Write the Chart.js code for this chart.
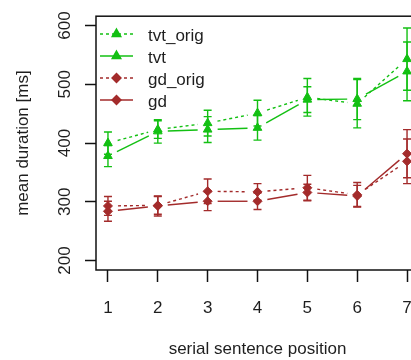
<!DOCTYPE html>
<html>
<head>
<meta charset="utf-8">
<script src="https://cdn.jsdelivr.net/npm/chart.js@4"></script>
<style>
  html, body { margin: 0; padding: 0; background: #fff; }
  #wrap { width: 411px; height: 360px; overflow: hidden; position: relative; }
  canvas { display: block; }
</style>
</head>
<body>
<div id="wrap"><canvas id="c" width="430" height="360"></canvas></div>
<script>
// serial sentence positions and tick values
const positions = [1, 2, 3, 4, 5, 6, 7];
const yTicks = [200, 300, 400, 500, 600];

// mean durations [ms] and half-widths of the error bars
const tvtOrig    = [400, 423, 434, 451, 478, 467, 543];
const tvtOrigErr = [19, 15, 22, 22, 32, 41, 53];
const tvt        = [378, 420, 423, 426, 474, 475, 522];
const tvtErr     = [18, 20, 22, 21, 22, 35, 50];
const gdOrig     = [293, 294, 318, 317, 324, 312, 369];
const gdOrigErr  = [16, 15, 21, 14, 21, 21, 38];
const gd         = [284, 293, 301, 301, 316, 310, 382];
const gdErr      = [17, 17, 16, 14, 14, 18, 41];

const seriesNames = ['tvt_orig', 'tvt', 'gd_orig', 'gd'];

const GREEN = '#13c013';
const RED = '#a32b2b';
const FONT = "'Liberation Sans', Arial, sans-serif";
const TEXT = '#1e1e1e';

function makeSet(label, values, errs, color, dashed, shape, radius) {
  return {
    label,
    data: positions.map((x, i) => ({ x, y: values[i] })),
    errors: errs,
    dashed,
    showLine: false,
    borderColor: color,
    backgroundColor: color,
    pointStyle: shape,
    pointRadius: radius,
    pointHoverRadius: radius,
    pointBorderWidth: 1,
  };
}

const datasets = [
  makeSet(seriesNames[0], tvtOrig, tvtOrigErr, GREEN, true, 'triangle', 5),
  makeSet(seriesNames[1], tvt, tvtErr, GREEN, false, 'triangle', 5),
  makeSet(seriesNames[2], gdOrig, gdOrigErr, RED, true, 'rectRot', 4.5),
  makeSet(seriesNames[3], gd, gdErr, RED, false, 'rectRot', 4.5),
];

// connecting lines with a gap around each point, plus error bars
const linesAndErrors = {
  id: 'linesAndErrors',
  beforeDatasetsDraw(chart) {
    const ctx = chart.ctx;
    const yScale = chart.scales.y;
    const gap = 10;
    chart.data.datasets.forEach((ds, di) => {
      const meta = chart.getDatasetMeta(di);
      const pts = meta.data;
      ctx.save();
      ctx.strokeStyle = ds.borderColor;
      ctx.lineWidth = 1.4;
      // lines between neighbouring points
      ctx.setLineDash(ds.dashed ? [3, 3] : []);
      for (let i = 0; i < pts.length - 1; i++) {
        const a = pts[i], b = pts[i + 1];
        const dx = b.x - a.x, dy = b.y - a.y;
        const len = Math.hypot(dx, dy);
        if (len <= 2 * gap) continue;
        const ux = dx / len, uy = dy / len;
        ctx.beginPath();
        ctx.moveTo(a.x + ux * gap, a.y + uy * gap);
        ctx.lineTo(b.x - ux * gap, b.y - uy * gap);
        ctx.stroke();
      }
      // error bars
      ctx.setLineDash([]);
      ds.data.forEach((p, i) => {
        const x = pts[i].x;
        const lo = yScale.getPixelForValue(p.y - ds.errors[i]);
        const hi = yScale.getPixelForValue(p.y + ds.errors[i]);
        ctx.beginPath();
        ctx.moveTo(x, lo); ctx.lineTo(x, hi);
        ctx.moveTo(x - 4, lo); ctx.lineTo(x + 4, lo);
        ctx.moveTo(x - 4, hi); ctx.lineTo(x + 4, hi);
        ctx.stroke();
      });
      ctx.restore();
    });
  },
  afterDraw(chart) {
    const ctx = chart.ctx;
    const area = chart.chartArea;
    ctx.save();
    // frame around the plotting region
    ctx.strokeStyle = '#111';
    ctx.lineWidth = 1.5;
    ctx.strokeRect(area.left, area.top, area.right - area.left, area.bottom - area.top);

    // legend in the top-left corner
    const rowY = [34, 56, 78, 100];
    chart.data.datasets.forEach((ds, di) => {
      const y = rowY[di];
      ctx.strokeStyle = ds.borderColor;
      ctx.lineWidth = 1.4;
      ctx.setLineDash(ds.dashed ? [3, 3] : []);
      ctx.beginPath();
      ctx.moveTo(100, y); ctx.lineTo(133, y);
      ctx.stroke();
      ctx.setLineDash([]);
      ctx.fillStyle = ds.backgroundColor;
      Chart.helpers.drawPoint(ctx, {
        pointStyle: ds.pointStyle, radius: ds.pointRadius, borderWidth: 1, rotation: 0
      }, 116.5, y);
      ctx.fill();
      ctx.fillStyle = TEXT;
      ctx.font = '17px ' + FONT;
      ctx.textAlign = 'left';
      ctx.textBaseline = 'middle';
      ctx.fillText(ds.label, 148, y + 2);
    });
    ctx.restore();
  }
};

new Chart(document.getElementById('c'), {
  type: 'scatter',
  data: { datasets },
  options: {
    responsive: false,
    animation: false,
    events: [],
    layout: { padding: { left: 0, right: 11, top: 13, bottom: 0 } },
    plugins: { legend: { display: false }, tooltip: { enabled: false } },
    scales: {
      x: {
        type: 'linear',
        min: 0.76,
        max: 7.24,
        afterBuildTicks: s => { s.ticks = positions.map(v => ({ value: v })); },
        afterFit: s => { s.height = 90; },
        border: { display: false },
        grid: { drawOnChartArea: false, drawTicks: true, tickLength: 12, tickColor: '#111', tickWidth: 1.5 },
        ticks: { color: TEXT, font: { family: FONT, size: 17 }, padding: 16, maxRotation: 0, autoSkip: false },
        title: {
          display: true, text: 'serial sentence position', color: TEXT,
          font: { family: FONT, size: 17 }, padding: { top: 0, bottom: 0 }
        }
      },
      y: {
        type: 'linear',
        min: 184,
        max: 616,
        afterBuildTicks: s => { s.ticks = yTicks.map(v => ({ value: v })); },
        afterFit: s => { s.width = 96; },
        border: { display: false },
        grid: { drawOnChartArea: false, drawTicks: true, tickLength: 11, tickColor: '#111', tickWidth: 1.5 },
        ticks: {
          color: TEXT, font: { family: FONT, size: 17 }, padding: 6,
          minRotation: 90, maxRotation: 90, crossAlign: 'center', autoSkip: false
        },
        title: {
          display: true, text: 'mean duration [ms]', color: TEXT,
          font: { family: FONT, size: 17 }, padding: { top: 13, bottom: 0 }
        }
      }
    }
  },
  plugins: [linesAndErrors]
});
</script>
</body>
</html>
